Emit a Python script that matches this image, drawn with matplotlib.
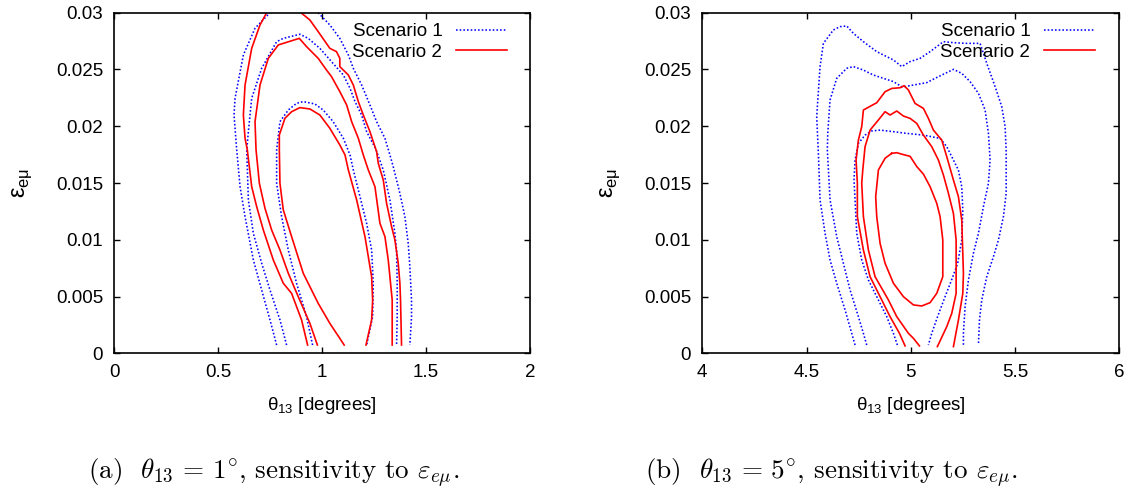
import matplotlib
matplotlib.use('Agg')
import matplotlib.pyplot as plt
from matplotlib.lines import Line2D

plt.rcParams['font.family'] = ['Liberation Sans', 'DejaVu Sans']

# ---------------- axis / text data ----------------
y_ticks = [0, 0.005, 0.01, 0.015, 0.02, 0.025, 0.03]
y_ticklabels = ['0', '0.005', '0.01', '0.015', '0.02', '0.025', '0.03']
a_xticks = [0, 0.5, 1, 1.5, 2]
a_xticklabels = ['0', '0.5', '1', '1.5', '2']
b_xticks = [4, 4.5, 5, 5.5, 6]
b_xticklabels = ['4', '4.5', '5', '5.5', '6']
series_names = ['Scenario 1', 'Scenario 2']
x_label = 'θ$_{\\mathregular{13}}$ [degrees]'
y_label = 'ε$_{\\mathregular{eμ}}$'
captions = [r'(a)  $\theta_{13}\,=\,1^{\circ}$, sensitivity to $\varepsilon_{e\mu}$.',
            r'(b)  $\theta_{13}\,=\,5^{\circ}$, sensitivity to $\varepsilon_{e\mu}$.']

# ---------------- panel (a): theta13 = 1 deg ----------------
# Scenario 1 (blue dotted)
a_s1_inner_x = [0.954, 0.925, 0.877, 0.837, 0.805, 0.781, 0.781, 0.797, 0.837, 0.877, 0.909, 0.965, 1.005, 1.053, 1.102, 1.134, 1.150, 1.182, 1.214, 1.238, 1.246, 1.243, 1.214]
a_s1_inner_y = [0.00073, 0.00323, 0.00617, 0.00910, 0.01204, 0.01497, 0.01791, 0.02040, 0.02143, 0.02202, 0.02217, 0.02196, 0.02143, 0.02040, 0.01894, 0.01747, 0.01615, 0.01380, 0.01145, 0.00910, 0.00617, 0.00323, 0.00073]
a_s1_mid_x = [0.829, 0.797, 0.749, 0.709, 0.669, 0.645, 0.637, 0.645, 0.661, 0.709, 0.781, 0.813, 0.893, 0.933, 0.989, 1.045, 1.102, 1.134, 1.158, 1.190, 1.214, 1.258, 1.294, 1.326, 1.350, 1.358, 1.361, 1.361, 1.358]
a_s1_mid_y = [0.00073, 0.00294, 0.00558, 0.00793, 0.01057, 0.01351, 0.01791, 0.01952, 0.02246, 0.02510, 0.02745, 0.02774, 0.02810, 0.02774, 0.02686, 0.02569, 0.02451, 0.02334, 0.02217, 0.02099, 0.01952, 0.01800, 0.01615, 0.01351, 0.01057, 0.00910, 0.00617, 0.00323, 0.00073]
a_s1_outL_x = [0.781, 0.749, 0.709, 0.669, 0.629, 0.605, 0.589, 0.576, 0.581, 0.621, 0.677, 0.749]
a_s1_outL_y = [0.00073, 0.00294, 0.00558, 0.00822, 0.01204, 0.01468, 0.01791, 0.02099, 0.02246, 0.02628, 0.02863, 0.03000]
a_s1_outR_x = [0.981, 1.037, 1.085, 1.126, 1.150, 1.190, 1.230, 1.262, 1.302, 1.326, 1.342, 1.374, 1.398, 1.414, 1.422, 1.430, 1.430, 1.422]
a_s1_outR_y = [0.03000, 0.02892, 0.02774, 0.02628, 0.02510, 0.02363, 0.02187, 0.02040, 0.01894, 0.01747, 0.01644, 0.01409, 0.01204, 0.00969, 0.00763, 0.00470, 0.00323, 0.00073]
# Scenario 2 (red solid)
a_s2_inner_x = [1.106, 1.037, 0.981, 0.909, 0.853, 0.813, 0.797, 0.794, 0.794, 0.821, 0.853, 0.893, 0.941, 0.989, 1.037, 1.085, 1.110, 1.126, 1.166, 1.206, 1.238, 1.243, 1.238, 1.211]
a_s2_inner_y = [0.00073, 0.00264, 0.00440, 0.00705, 0.01028, 0.01263, 0.01497, 0.01791, 0.01923, 0.02070, 0.02128, 0.02164, 0.02152, 0.02099, 0.01982, 0.01835, 0.01747, 0.01615, 0.01351, 0.01028, 0.00675, 0.00470, 0.00294, 0.00073]
a_s2_mid_x = [0.977, 0.941, 0.885, 0.837, 0.797, 0.757, 0.725, 0.698, 0.682, 0.677, 0.701, 0.741, 0.789, 0.890, 0.925, 0.981, 1.021, 1.045, 1.085, 1.118, 1.142, 1.174, 1.198, 1.222, 1.254, 1.278, 1.302, 1.318, 1.337, 1.337]
a_s2_mid_y = [0.00073, 0.00264, 0.00499, 0.00705, 0.00910, 0.01086, 0.01277, 0.01497, 0.01791, 0.02040, 0.02363, 0.02598, 0.02716, 0.02774, 0.02701, 0.02598, 0.02495, 0.02437, 0.02305, 0.02187, 0.02040, 0.01894, 0.01747, 0.01615, 0.01468, 0.01145, 0.01028, 0.00822, 0.00470, 0.00073]
a_s2_outL_x = [0.930, 0.901, 0.853, 0.813, 0.765, 0.733, 0.717, 0.685, 0.661, 0.640, 0.629, 0.621, 0.629, 0.661, 0.701, 0.733]
a_s2_outL_y = [0.00073, 0.00294, 0.00528, 0.00617, 0.00822, 0.00998, 0.01086, 0.01292, 0.01468, 0.01791, 0.01894, 0.02099, 0.02363, 0.02686, 0.02892, 0.03000]
a_s2_outR_x = [0.898, 0.941, 0.981, 1.037, 1.069, 1.085, 1.085, 1.126, 1.150, 1.174, 1.198, 1.230, 1.262, 1.270, 1.294, 1.310, 1.334, 1.350, 1.366, 1.374, 1.377, 1.382]
a_s2_outR_y = [0.03000, 0.02936, 0.02833, 0.02686, 0.02657, 0.02598, 0.02525, 0.02451, 0.02363, 0.02217, 0.02099, 0.01952, 0.01776, 0.01674, 0.01527, 0.01321, 0.01116, 0.00998, 0.00793, 0.00617, 0.00470, 0.00073]

# ---------------- panel (b): theta13 = 5 deg ----------------
# Scenario 1 (blue dotted)
b_s1_inner_x = [4.936, 4.917, 4.885, 4.837, 4.797, 4.765, 4.741, 4.733, 4.728, 4.733, 4.749, 4.781, 4.813, 4.853, 4.917, 4.981, 5.061, 5.141, 5.173, 5.205, 5.229, 5.245, 5.250, 5.245, 5.225, 5.197, 5.165, 5.129, 5.101, 5.085]
b_s1_inner_y = [0.00073, 0.00176, 0.00323, 0.00499, 0.00646, 0.00822, 0.01057, 0.01351, 0.01526, 0.01702, 0.01849, 0.01922, 0.01958, 0.01966, 0.01952, 0.01937, 0.01922, 0.01893, 0.01820, 0.01702, 0.01614, 0.01467, 0.01262, 0.00998, 0.00790, 0.00650, 0.00499, 0.00323, 0.00176, 0.00073]
b_s1_mid_x = [4.789, 4.773, 4.749, 4.709, 4.677, 4.645, 4.613, 4.600, 4.602, 4.613, 4.645, 4.693, 4.725, 4.773, 4.821, 4.869, 4.917, 4.960, 5.013, 5.077, 5.117, 5.205, 5.245, 5.285, 5.325, 5.357, 5.373, 5.381, 5.373, 5.349, 5.325, 5.301, 5.277, 5.261, 5.253, 5.253]
b_s1_mid_y = [0.00073, 0.00176, 0.00323, 0.00558, 0.00793, 0.01028, 0.01351, 0.01791, 0.01938, 0.02231, 0.02422, 0.02510, 0.02525, 0.02495, 0.02451, 0.02422, 0.02393, 0.02345, 0.02363, 0.02384, 0.02422, 0.02501, 0.02466, 0.02393, 0.02290, 0.02143, 0.01938, 0.01703, 0.01497, 0.01292, 0.01057, 0.00881, 0.00646, 0.00411, 0.00176, 0.00073]
b_s1_out_x = [4.733, 4.717, 4.685, 4.645, 4.613, 4.589, 4.565, 4.557, 4.549, 4.565, 4.581, 4.629, 4.661, 4.693, 4.725, 4.773, 4.837, 4.885, 4.917, 4.957, 4.997, 5.045, 5.093, 5.125, 5.157, 5.205, 5.269, 5.333, 5.365, 5.405, 5.437, 5.453, 5.458, 5.458, 5.445, 5.421, 5.397, 5.365, 5.341, 5.330, 5.325]
b_s1_out_y = [0.00073, 0.00176, 0.00382, 0.00617, 0.00822, 0.01057, 0.01351, 0.01761, 0.02084, 0.02525, 0.02730, 0.02848, 0.02877, 0.02883, 0.02818, 0.02745, 0.02657, 0.02613, 0.02584, 0.02525, 0.02569, 0.02598, 0.02657, 0.02701, 0.02745, 0.02736, 0.02730, 0.02730, 0.02554, 0.02349, 0.02172, 0.01996, 0.01791, 0.01409, 0.01204, 0.00998, 0.00851, 0.00675, 0.00470, 0.00294, 0.00073]
# Scenario 2 (red solid)
b_s2_inner_x = [4.909, 4.933, 4.965, 4.997, 5.029, 5.061, 5.093, 5.125, 5.141, 5.154, 5.154, 5.125, 5.093, 5.053, 5.013, 4.965, 4.917, 4.877, 4.853, 4.837, 4.832, 4.845, 4.877, 4.909]
b_s2_inner_y = [0.01761, 0.01767, 0.01750, 0.01735, 0.01645, 0.01578, 0.01468, 0.01321, 0.01204, 0.00998, 0.00675, 0.00528, 0.00446, 0.00417, 0.00426, 0.00499, 0.00617, 0.00793, 0.00969, 0.01204, 0.01380, 0.01615, 0.01718, 0.01761]
b_s2_mid_x = [5.042, 5.013, 4.989, 4.933, 4.893, 4.829, 4.797, 4.773, 4.765, 4.770, 4.781, 4.805, 4.845, 4.877, 4.901, 4.933, 4.965, 4.997, 5.029, 5.061, 5.101, 5.133, 5.157, 5.181, 5.205, 5.218, 5.218, 5.218, 5.197, 5.173, 5.128]
b_s2_mid_y = [0.00065, 0.00132, 0.00176, 0.00323, 0.00470, 0.00675, 0.00910, 0.01204, 0.01497, 0.01614, 0.01820, 0.01966, 0.02055, 0.02128, 0.02099, 0.02134, 0.02090, 0.02069, 0.02025, 0.01922, 0.01820, 0.01702, 0.01570, 0.01409, 0.01232, 0.00998, 0.00763, 0.00528, 0.00352, 0.00235, 0.00059]
b_s2_out_x = [4.973, 4.946, 4.901, 4.861, 4.805, 4.773, 4.744, 4.744, 4.738, 4.749, 4.765, 4.773, 4.837, 4.877, 4.909, 4.949, 4.968, 4.989, 5.021, 5.061, 5.085, 5.109, 5.149, 5.173, 5.205, 5.229, 5.245, 5.250, 5.253, 5.250, 5.229, 5.205]
b_s2_out_y = [0.00065, 0.00176, 0.00323, 0.00470, 0.00675, 0.00910, 0.01204, 0.01497, 0.01702, 0.01878, 0.01996, 0.02143, 0.02207, 0.02304, 0.02333, 0.02339, 0.02357, 0.02319, 0.02201, 0.02157, 0.02069, 0.01966, 0.01878, 0.01732, 0.01526, 0.01379, 0.01174, 0.00881, 0.00704, 0.00528, 0.00293, 0.00059]

# ---------------- figure ----------------
W, H = 1137, 494
fig = plt.figure(figsize=(W / 100, H / 100), dpi=100)
ax_a = fig.add_axes([114.3 / W, 1 - 353.3 / H, 415.7 / W, 340.6 / H])
ax_b = fig.add_axes([702.3 / W, 1 - 353.3 / H, 416.8 / W, 340.6 / H])

style_s1 = dict(color='#0000ff', lw=1.15, linestyle=(0, (1, 1.3)))
style_s2 = dict(color='#ff0000', lw=1.2, linestyle='-')

panels = [
    (ax_a, (0, 2), a_xticks, a_xticklabels, 0.9695,
     [(a_s1_inner_x, a_s1_inner_y), (a_s1_mid_x, a_s1_mid_y), (a_s1_outL_x, a_s1_outL_y), (a_s1_outR_x, a_s1_outR_y)],
     [(a_s2_inner_x, a_s2_inner_y), (a_s2_mid_x, a_s2_mid_y), (a_s2_outL_x, a_s2_outL_y), (a_s2_outR_x, a_s2_outR_y)]),
    (ax_b, (4, 6), b_xticks, b_xticklabels, 0.967,
     [(b_s1_inner_x, b_s1_inner_y), (b_s1_mid_x, b_s1_mid_y), (b_s1_out_x, b_s1_out_y)],
     [(b_s2_inner_x, b_s2_inner_y), (b_s2_mid_x, b_s2_mid_y), (b_s2_out_x, b_s2_out_y)]),
]

for ax, xlim, xt, xtl, leg_x, s1_curves, s2_curves in panels:
    for cx, cy in s1_curves:
        ax.plot(cx, cy, **style_s1)
    for cx, cy in s2_curves:
        ax.plot(cx, cy, **style_s2)
    ax.set_xlim(*xlim)
    ax.set_ylim(0, 0.03)
    ax.set_xticks(xt)
    ax.set_xticklabels(xtl)
    ax.set_yticks(y_ticks)
    ax.set_yticklabels(y_ticklabels)
    ax.tick_params(direction='in', length=4.5, width=1.0, top=True, right=True,
                   labelsize=13.5, colors='black')
    ax.tick_params(axis='x', pad=8)
    ax.tick_params(axis='y', pad=8)
    for sp in ax.spines.values():
        sp.set_linewidth(1.2)
        sp.set_color('black')
    ax.set_xlabel(x_label, fontsize=13.5, labelpad=10)
    ax.set_ylabel(y_label, fontsize=17, labelpad=16)
    handles = [Line2D([], [], **style_s1), Line2D([], [], **style_s2)]
    ax.legend(handles, series_names, loc='upper right', bbox_to_anchor=(leg_x, 1.0),
              frameon=False, markerfirst=False,
              fontsize=13.5, handlelength=2.7, handletextpad=0.75, labelspacing=0.18,
              borderaxespad=0.3, borderpad=0.25)

fig.text(88 / W, 1 - 478 / H, captions[0], fontsize=19.5, family='cmr10',
         math_fontfamily='cm', ha='left', va='baseline')
fig.text(645 / W, 1 - 478 / H, captions[1], fontsize=19.5, family='cmr10',
         math_fontfamily='cm', ha='left', va='baseline')

fig.savefig('out.png', dpi=100)
